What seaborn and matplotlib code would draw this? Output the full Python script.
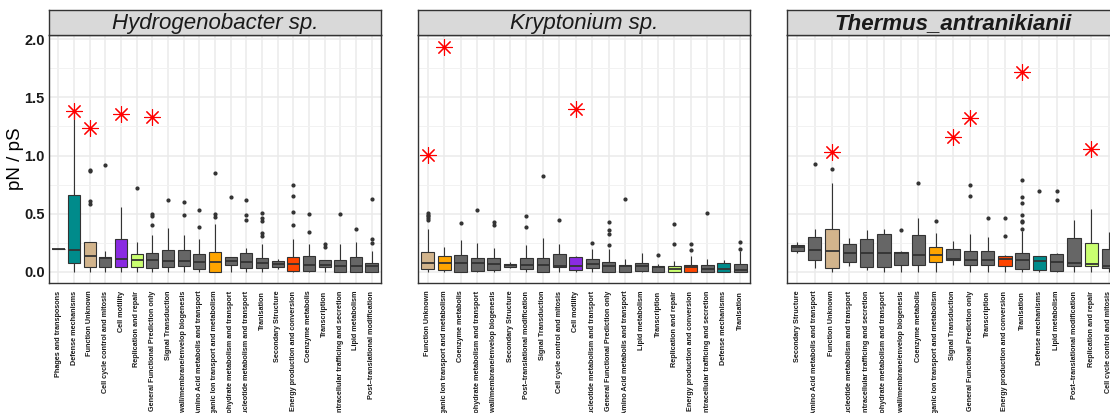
import numpy as np
import pandas as pd
import seaborn as sns
import matplotlib.pyplot as plt
from matplotlib.ticker import MultipleLocator

# ---- panel 1 : Hydrogenobacter sp. ----
cats1 = ["Phages and transposons", "Defense mechanisms", "Function Unknown",
         "Cell cycle control and mitosis", "Cell motility", "Replication and repair",
         "General Functional Prediction only", "Signal Transduction",
         "Cell wall/membrane/envelop biogenesis", "Amino Acid metabolis and transport",
         "Inorganic Ion transport and metabolism", "Carbohydrate metabolism and transport",
         "Nucleotide metabolism and transport", "Tranlsation", "Secondary Structure",
         "Energy production and conversion", "Coenzyme metabolis", "Transcription",
         "Intracellular trafficing and secretion", "Lipid metabolism",
         "Post\u2013translational modification"]
lo1 = [0.2, 0.0, 0.0, 0.0, 0.0, 0.0, 0.0, 0.0, 0.0, 0.0, 0.0,
       0.0, 0.0, 0.0, 0.026, 0.0, 0.0, 0.0, 0.0, 0.0, 0.0]
q1_1 = [0.2, 0.077, 0.04, 0.045, 0.04, 0.04, 0.034, 0.045, 0.049, 0.027, 0.0,
        0.063, 0.034, 0.03, 0.043, 0.011, 0.005, 0.04, 0.0, 0.0, 0.0]
med1 = [0.2, 0.19, 0.134, 0.12, 0.112, 0.106, 0.10, 0.092, 0.092, 0.086, 0.086,
        0.09, 0.083, 0.077, 0.068, 0.069, 0.06, 0.06, 0.05, 0.05, 0.048]
q3_1 = [0.2, 0.664, 0.258, 0.129, 0.283, 0.158, 0.165, 0.186, 0.192, 0.155, 0.17,
        0.132, 0.163, 0.12, 0.091, 0.126, 0.135, 0.106, 0.106, 0.129, 0.077]
hi1 = [0.2, 1.36, 0.586, 0.18, 0.558, 0.255, 0.318, 0.378, 0.32, 0.286, 0.415,
       0.132, 0.206, 0.24, 0.11, 0.283, 0.24, 0.106, 0.24, 0.258, 0.183]
out1 = [[], [], [0.606, 0.865, 0.878], [0.92], [], [0.72], [0.40, 0.48, 0.50],
        [0.615], [0.49, 0.60], [0.39, 0.53], [0.47, 0.50, 0.85], [0.64],
        [0.443, 0.486, 0.618], [0.31, 0.335, 0.44, 0.46, 0.51], [],
        [0.406, 0.518, 0.649, 0.749], [0.343, 0.498], [0.215, 0.24], [0.498],
        [0.369], [0.249, 0.286, 0.629]]
star1_cats = ["Defense mechanisms", "Function Unknown", "Cell motility",
              "General Functional Prediction only"]
star1_vals = [1.379, 1.236, 1.359, 1.33]

# ---- panel 2 : Kryptonium sp. ----
cats2 = ["Function Unknown", "Inorganic Ion transport and metabolism", "Coenzyme metabolis",
         "Carbohydrate metabolism and transport", "Cell wall/membrane/envelop biogenesis",
         "Secondary Structure", "Post\u2013translational modification", "Signal Transduction",
         "Cell cycle control and mitosis", "Cell motility",
         "Nucleotide metabolism and transport", "General Functional Prediction only",
         "Amino Acid metabolis and transport", "Lipid metabolism", "Transcription",
         "Replication and repair", "Energy production and conversion",
         "Intracellular trafficing and secretion", "Defense mechanisms", "Tranlsation"]
lo2 = [0.0, 0.0, 0.0, 0.0, 0.0, 0.034, 0.0, 0.0, 0.0, 0.0,
       0.0, 0.0, 0.0, 0.0, 0.0, 0.0, 0.0, 0.0, 0.0, 0.0]
q1_2 = [0.026, 0.02, 0.0, 0.006, 0.014, 0.043, 0.026, 0.0, 0.043, 0.014,
        0.034, 0.0, 0.0, 0.006, 0.0, 0.0, 0.0, 0.0, 0.0, 0.0]
med2 = [0.077, 0.077, 0.077, 0.077, 0.069, 0.057, 0.057, 0.057, 0.049, 0.049,
        0.069, 0.049, 0.049, 0.049, 0.04, 0.029, 0.04, 0.029, 0.029, 0.014]
q3_2 = [0.169, 0.134, 0.146, 0.12, 0.12, 0.072, 0.12, 0.12, 0.157, 0.129,
        0.112, 0.089, 0.063, 0.077, 0.054, 0.049, 0.063, 0.057, 0.077, 0.072]
hi2 = [0.372, 0.215, 0.272, 0.249, 0.203, 0.083, 0.229, 0.292, 0.243, 0.134,
       0.2, 0.2, 0.114, 0.163, 0.07, 0.092, 0.14, 0.114, 0.106, 0.177]
out2 = [[0.45, 0.465, 0.48, 0.49, 0.505], [], [0.423], [0.529], [0.406, 0.426], [],
        [0.383, 0.478], [0.827], [0.449], [], [0.246], [0.235, 0.33, 0.36, 0.426],
        [0.627], [], [0.149], [0.237, 0.415], [0.192, 0.24], [0.506], [], [0.197, 0.255]]
star2_cats = ["Function Unknown", "Inorganic Ion transport and metabolism", "Cell motility"]
star2_vals = [1.004, 1.931, 1.402]

# ---- panel 3 : Thermus_antranikianii ----
cats3 = ["Secondary Structure", "Amino Acid metabolis and transport", "Function Unknown",
         "Nucleotide metabolism and transport", "Intracellular trafficing and secretion",
         "Carbohydrate metabolism and transport", "Cell wall/membrane/envelop biogenesis",
         "Coenzyme metabolis", "Inorganic Ion transport and metabolism",
         "Signal Transduction", "General Functional Prediction only", "Transcription",
         "Energy production and conversion", "Tranlsation", "Defense mechanisms",
         "Lipid metabolism", "Post\u2013translational modification", "Replication and repair",
         "Cell cycle control and mitosis"]
lo3 = [0.163, 0.034, 0.0, 0.049, 0.02, 0.0, 0.0, 0.0, 0.0, 0.063,
       0.0, 0.0, 0.0, 0.0, 0.0, 0.0, 0.0, 0.0, 0.0]
q1_3 = [0.183, 0.106, 0.034, 0.086, 0.04, 0.04, 0.063, 0.057, 0.089, 0.106,
        0.057, 0.063, 0.054, 0.029, 0.014, 0.005, 0.048, 0.048, 0.034]
med3 = [0.212, 0.192, 0.177, 0.163, 0.163, 0.163, 0.163, 0.149, 0.143, 0.114,
        0.106, 0.106, 0.115, 0.10, 0.091, 0.086, 0.077, 0.068, 0.054]
q3_3 = [0.235, 0.30, 0.372, 0.24, 0.283, 0.329, 0.172, 0.318, 0.212, 0.2,
        0.177, 0.183, 0.134, 0.163, 0.134, 0.154, 0.292, 0.249, 0.2]
hi3 = [0.258, 0.372, 0.76, 0.292, 0.363, 0.369, 0.177, 0.464, 0.335, 0.27,
       0.326, 0.297, 0.149, 0.349, 0.14, 0.16, 0.449, 0.54, 0.343]
out3 = [[], [0.927], [0.885], [], [], [], [0.363], [0.764], [0.44], [],
        [0.652, 0.749], [0.46], [0.306, 0.46], [0.37, 0.43, 0.44, 0.49, 0.59, 0.64, 0.79],
        [0.695], [0.62, 0.695], [], [], []]
star3_cats = ["Function Unknown", "Signal Transduction", "General Functional Prediction only",
              "Tranlsation", "Replication and repair"]
star3_vals = [1.03, 1.162, 1.325, 1.717, 1.053]

titles = ["Hydrogenobacter sp.", "Kryptonium sp.", "Thermus_antranikianii"]

special = {"Defense mechanisms": "#008B8B", "Function Unknown": "#D2B48C",
           "Cell motility": "#8A2BE2", "Replication and repair": "#CAFF70",
           "Inorganic Ion transport and metabolism": "#FFA500",
           "Energy production and conversion": "#FF4500"}


def build(cats, lo, q1, med, q3, hi, outl):
    # box summary -> sample whose quartiles / whiskers match the read values
    rows = []
    for i, c in enumerate(cats):
        vals = [lo[i]] + [q1[i]] * 50 + [med[i]] * 50 + [q3[i]] * 50 + [hi[i]] + list(outl[i])
        rows += [(c, v) for v in vals]
    return pd.DataFrame(rows, columns=["cog", "pNpS"])


panels = [
    (cats1, build(cats1, lo1, q1_1, med1, q3_1, hi1, out1), star1_cats, star1_vals),
    (cats2, build(cats2, lo2, q1_2, med2, q3_2, hi2, out2), star2_cats, star2_vals),
    (cats3, build(cats3, lo3, q1_3, med3, q3_3, hi3, out3), star3_cats, star3_vals),
]

sns.set_style("white")
plt.rcParams['font.family'] = ['Liberation Sans', 'DejaVu Sans']

W, H = 1110, 413
fig = plt.figure(figsize=(W / 100, H / 100), dpi=100)

lefts = [49, 418, 787]
pw = 332
top, bottom = 35, 283

for k, (cats, df, scats, svals) in enumerate(panels):
    ax = fig.add_axes([lefts[k] / W, (H - bottom) / H, pw / W, (bottom - top) / H])
    pal = {c: special.get(c, "#666666") for c in cats}
    sns.boxplot(data=df, x="cog", y="pNpS", order=cats, hue="cog", hue_order=cats,
                palette=pal, legend=False, width=0.78, linecolor="#333333",
                linewidth=0.8, fliersize=2.0, showcaps=False, saturation=1,
                flierprops=dict(marker="o", markerfacecolor="#333333",
                                markeredgecolor="#333333"),
                medianprops=dict(linewidth=1.3), ax=ax)
    sdf = pd.DataFrame({"cog": scats, "pNpS": svals})
    sns.stripplot(data=sdf, x="cog", y="pNpS", order=cats, jitter=False, color="red",
                  marker=(8, 2, 0), s=11.5, linewidth=0.8, ax=ax, zorder=5)
    sns.stripplot(data=sdf, x="cog", y="pNpS", order=cats, jitter=False, color="red",
                  marker="o", s=2.2, ax=ax, zorder=6)

    ax.set_xlim(-0.6, len(cats) - 0.4)
    ax.set_ylim(-0.095, 2.035)
    ax.yaxis.set_major_locator(MultipleLocator(0.5))
    ax.yaxis.set_minor_locator(MultipleLocator(0.25))
    ax.set_axisbelow(True)
    ax.grid(True, which="major", color="#EBEBEB", linewidth=1.1)
    ax.grid(True, which="minor", axis="y", color="#F2F2F2", linewidth=0.7)
    ax.set_xlabel("")
    ax.set_ylabel("")
    for s in ax.spines.values():
        s.set_color("#333333")
        s.set_linewidth(1.0)
    ax.tick_params(axis="x", length=2.5, width=0.6, color="#333333", pad=3,
                   labelrotation=90, labelsize=5.2, labelcolor="#1a1a1a")
    for t in ax.get_xticklabels():
        t.set_fontweight("bold")
    ax.tick_params(which="minor", length=0)
    if k == 0:
        ax.set_yticks([0, 0.5, 1.0, 1.5, 2.0])
        ax.set_yticklabels(["0.0", "0.5", "1.0", "1.5", "2.0"], fontweight="bold")
        ax.tick_params(axis="y", length=2.2, width=0.6, color="#333333", pad=1,
                       labelsize=10.5, labelcolor="#1a1a1a")
    else:
        ax.tick_params(axis="y", left=False, labelleft=False)

    # facet strip
    st = fig.add_axes([lefts[k] / W, (H - top) / H, pw / W, 25 / H])
    st.set_facecolor("#D9D9D9")
    st.set_xticks([])
    st.set_yticks([])
    for s in st.spines.values():
        s.set_color("#333333")
        s.set_linewidth(1.0)
    st.text(0.5, 0.45, titles[k], ha="center", va="center", fontsize=16,
            style="italic", fontweight="bold" if k == 2 else "normal",
            color="#1a1a1a", transform=st.transAxes)

fig.text(16 / W, 1 - 159 / H, "pN / pS", rotation=90, ha="center", va="center",
         fontsize=13.5, color="black")

fig.savefig("out.png", dpi=100)
